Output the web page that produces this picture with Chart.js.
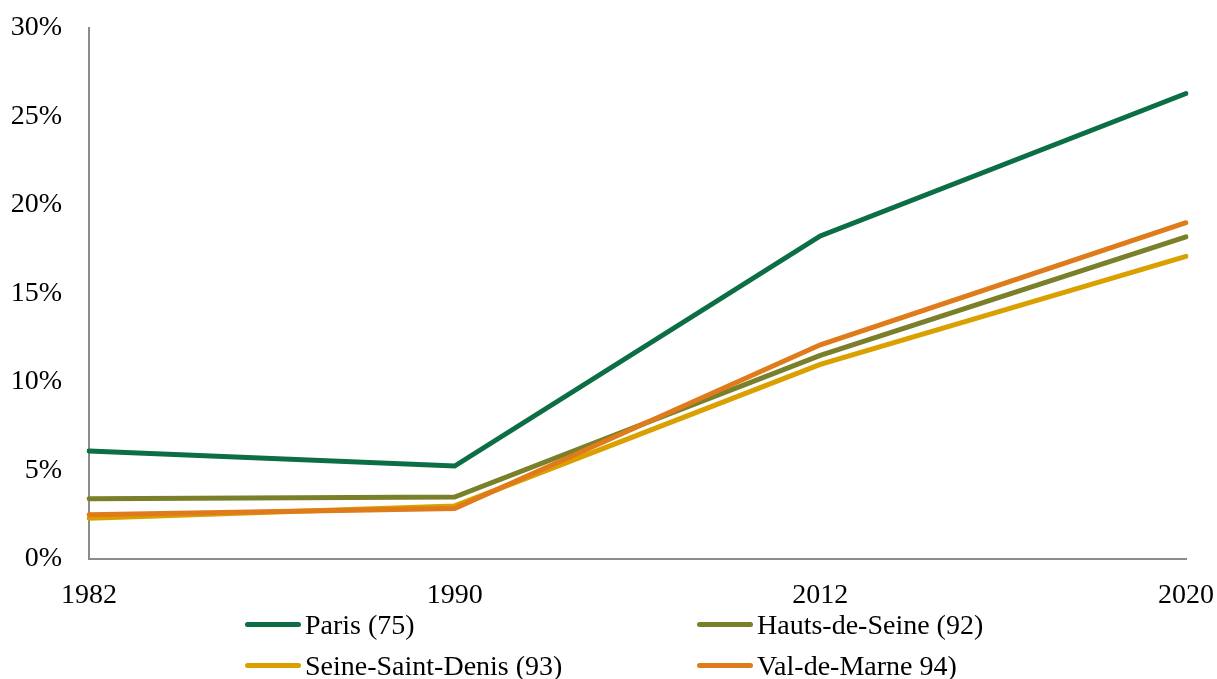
<!DOCTYPE html>
<html>
<head>
<meta charset="utf-8">
<script src="https://cdn.jsdelivr.net/npm/chart.js@4"></script>
<style>
  body { margin: 0; background: #fff; font-family: "Liberation Serif", serif; }
  #wrap { position: relative; width: 1217px; height: 679px; }
  #chartBox { position: absolute; left: 0; top: 0; width: 1217px; height: 612px; }
  #legend {
    position: absolute; left: 245px; top: 604px;
    display: grid; grid-template-columns: 452px 452px; grid-auto-rows: 41px;
  }
  .item { display: flex; align-items: center; font-size: 28px; color: #000; }
  .swatch { width: 56px; height: 5px; border-radius: 3px; margin-right: 4px; }
</style>
</head>
<body>
<div id="wrap">
  <div id="chartBox"><canvas id="chart"></canvas></div>
  <div id="legend"></div>
</div>
<script>
/* =========================
   DATA
========================= */
const years = ["1982", "1990", "2012", "2020"];
const seriesNames = ["Paris (75)", "Hauts-de-Seine (92)", "Seine-Saint-Denis (93)", "Val-de-Marne 94)"];
const paris = [6.1, 5.25, 18.25, 26.3];
const hautsDeSeine = [3.4, 3.5, 11.5, 18.2];
const seineSaintDenis = [2.3, 3.0, 11.0, 17.1];
const valDeMarne = [2.5, 2.85, 12.1, 19.0];
const colors = ["#0c6e45", "#7a7f2a", "#d9a000", "#e07b1b"];

const allValues = [paris, hautsDeSeine, seineSaintDenis, valDeMarne];

/* =========================
   CHART
========================= */
const font = { family: "Liberation Serif", size: 28 };

const chart = new Chart(document.getElementById("chart"), {
  type: "line",
  data: {
    labels: years,
    datasets: allValues.map((vals, i) => ({
      label: seriesNames[i],
      data: vals,
      borderColor: colors[i],
      backgroundColor: colors[i],
      borderWidth: 5,
      borderCapStyle: "round",
      borderJoinStyle: "miter",
      pointRadius: 0,
      tension: 0,
      order: 4 - i
    }))
  },
  options: {
    responsive: true,
    maintainAspectRatio: false,
    animation: false,
    layout: { padding: { top: 28, right: 31, left: 0, bottom: 0 } },
    plugins: {
      legend: { display: false },
      tooltip: { enabled: false }
    },
    scales: {
      x: {
        offset: false,
        grid: { display: false, drawTicks: false },
        border: { color: "#8c8c8c", width: 2 },
        ticks: { color: "#000", font: font, padding: 20, maxRotation: 0 },
        afterFit: (s) => {
          s.height = 53;
          s.paddingLeft = 0;
          s.paddingRight = 0;
        }
      },
      y: {
        min: 0,
        max: 30,
        grid: { display: false, drawTicks: false },
        border: { color: "#8c8c8c", width: 2 },
        ticks: {
          stepSize: 5,
          color: "#000",
          font: font,
          padding: 27,
          callback: (v) => v + "%"
        },
        afterFit: (s) => {
          s.width = 89;
          s.paddingTop = 0;
          s.paddingBottom = 0;
        }
      }
    }
  }
});

/* =========================
   LEGEND (2 x 2)
========================= */
const legend = document.getElementById("legend");
seriesNames.forEach((name, i) => {
  const item = document.createElement("div");
  item.className = "item";
  const sw = document.createElement("span");
  sw.className = "swatch";
  sw.style.background = colors[i];
  item.appendChild(sw);
  item.appendChild(document.createTextNode(name));
  legend.appendChild(item);
});
</script>
</body>
</html>
